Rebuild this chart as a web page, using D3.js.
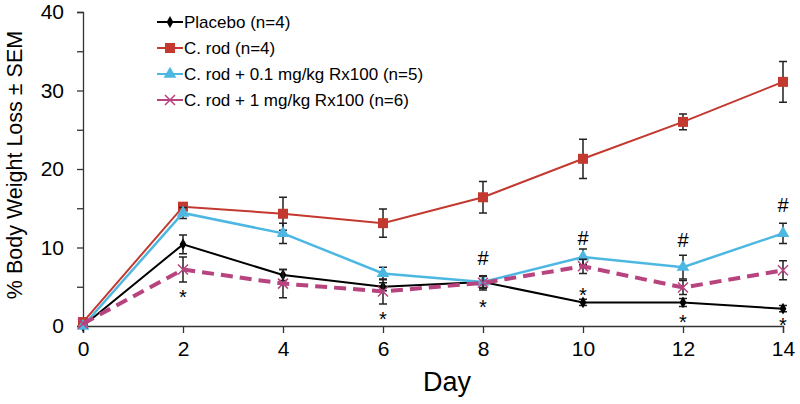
<!DOCTYPE html>
<html>
<head>
<meta charset="utf-8">
<script src="https://cdn.jsdelivr.net/npm/d3@7"></script>
<style>
  body { margin: 0; background: #fff; }
  text { font-family: "Liberation Sans", Arial, sans-serif; }
</style>
</head>
<body>
<svg id="chart" width="800" height="404"></svg>
<script>
// data
const days = [0, 2, 4, 6, 8, 10, 12, 14];
const placebo    = [0, 10.4, 6.5, 5.0, 5.6, 3.0, 3.0, 2.2];
const placeboErr = [0, 1.2, 0.7, 0.5, 0.7, 0.4, 0.5, 0.4];
const crod       = [0.5, 15.2, 14.3, 13.1, 16.4, 21.3, 26.0, 31.1];
const crodErr    = [0.2, 0.4, 2.1, 1.8, 2.0, 2.5, 1.0, 2.6];
const low        = [0, 14.4, 11.8, 6.7, 5.6, 8.8, 7.5, 11.8];
const lowErr     = [0, 0.7, 1.3, 0.8, 0.8, 1.0, 1.5, 1.3];
const high       = [0.3, 7.2, 5.4, 4.4, 5.5, 7.6, 4.9, 7.1];
const highErr    = [0.2, 1.6, 1.8, 1.6, 0.9, 0.9, 0.9, 1.2];
const seriesNames = ["Placebo (n=4)", "C. rod (n=4)", "C. rod + 0.1 mg/kg Rx100 (n=5)", "C. rod + 1 mg/kg Rx100 (n=6)"];
const yTicks = [0, 5, 10, 15, 20, 25, 30, 35, 40];
const yLabels = [0, 10, 20, 30, 40];
// significance marks: day and level (in % units) of the symbol
const starDays = [2, 6, 8, 10, 12, 14];
const starLevel = [4.2, 1.4, 2.9, 4.5, 1.0, 0.6];
const hashDays = [8, 10, 12, 14];
const hashLevel = [8.6, 11.2, 11.0, 15.4];

const svg = d3.select("#chart");
const x = d3.scaleLinear().domain([0, 14]).range([83, 783]);
const y = d3.scaleLinear().domain([0, 40]).range([326, 12]);

const series = [
  { name: seriesNames[0], vals: placebo, err: placeboErr, color: "#000", width: 2, dash: null, mark: "diamond" },
  { name: seriesNames[1], vals: crod, err: crodErr, color: "#c3392f", width: 2, dash: null, mark: "square" },
  { name: seriesNames[2], vals: low, err: lowErr, color: "#4cb8e2", width: 2.5, dash: null, mark: "triangle" },
  { name: seriesNames[3], vals: high, err: highErr, color: "#b7437f", width: 4, dash: "12,7", mark: "cross" }
];

// axes
const yAxis = svg.append("g").attr("transform", "translate(83,0)")
  .call(d3.axisLeft(y).tickValues(yTicks).tickSize(6).tickFormat(d => yLabels.includes(d) ? d : ""));
const xAxis = svg.append("g").attr("transform", "translate(0,326)")
  .call(d3.axisBottom(x).tickValues(days).tickSize(7).tickPadding(8));
[yAxis, xAxis].forEach(a => {
  a.select(".domain").attr("stroke", "#333").attr("stroke-width", 1.3);
  a.selectAll(".tick line").attr("stroke", "#333").attr("stroke-width", 1.3);
  a.selectAll("text").attr("font-size", 21).attr("fill", "#000")
    .style("font-family", "'Liberation Sans', Arial, sans-serif");
});
yAxis.select(".domain").attr("d", "M-6,326.5H0.5V12.5H-6");
yAxis.selectAll("text").attr("x", -19);

svg.append("text").attr("x", 447).attr("y", 391).attr("text-anchor", "middle")
  .attr("font-size", 27).text("Day");
svg.append("text").attr("transform", "translate(22,165) rotate(-90)")
  .attr("text-anchor", "middle").attr("font-size", 21.5).text("% Body Weight Loss ± SEM");

function drawMark(g, type, color, cx, cy) {
  if (type === "diamond") {
    g.append("path").attr("d", d3.symbol(d3.symbolDiamond, 40)()).attr("transform", `translate(${cx},${cy})`).attr("fill", color);
  } else if (type === "square") {
    g.append("rect").attr("x", cx - 5).attr("y", cy - 5).attr("width", 10).attr("height", 10).attr("fill", color);
  } else if (type === "triangle") {
    g.append("path").attr("d", d3.symbol(d3.symbolTriangle, 70)()).attr("transform", `translate(${cx},${cy})`).attr("fill", color);
  } else {
    g.append("path").attr("d", "M-5,-5L5,5M-5,5L5,-5").attr("transform", `translate(${cx},${cy})`)
      .attr("stroke", color).attr("stroke-width", 1.5).attr("fill", "none");
  }
}

const line = d3.line().x((d, i) => x(days[i])).y(d => y(d));

series.forEach(s => {
  const g = svg.append("g");
  // error bars
  s.vals.forEach((v, i) => {
    if (s.err[i] < 0.3) return;
    const cx = x(days[i]);
    g.append("path")
      .attr("d", `M${cx},${y(v - s.err[i])}V${y(v + s.err[i])}M${cx - 4},${y(v - s.err[i])}H${cx + 4}M${cx - 4},${y(v + s.err[i])}H${cx + 4}`)
      .attr("stroke", "#222").attr("stroke-width", 1.5).attr("fill", "none");
  });
  g.append("path").datum(s.vals).attr("d", line)
    .attr("fill", "none").attr("stroke", s.color).attr("stroke-width", s.width)
    .attr("stroke-dasharray", s.dash);
  s.vals.forEach((v, i) => drawMark(g, s.mark, s.color, x(days[i]), y(v)));
});

// significance symbols
starDays.forEach((d, i) => {
  svg.append("text").attr("x", x(d)).attr("y", y(starLevel[i]) + 11).attr("text-anchor", "middle")
    .attr("font-size", 20).text("*");
});
hashDays.forEach((d, i) => {
  svg.append("text").attr("x", x(d)).attr("y", y(hashLevel[i]) + 7).attr("text-anchor", "middle")
    .attr("font-size", 20).text("#");
});

// legend
const legend = svg.append("g");
series.forEach((s, i) => {
  const ly = 22 + i * 26;
  legend.append("line").attr("x1", 157).attr("x2", 183).attr("y1", ly).attr("y2", ly)
    .attr("stroke", s.color).attr("stroke-width", 2);
  drawMark(legend, s.mark, s.color, 170, ly);
  legend.append("text").attr("x", 184).attr("y", ly + 6).attr("font-size", 17).text(s.name);
});
</script>
</body>
</html>
